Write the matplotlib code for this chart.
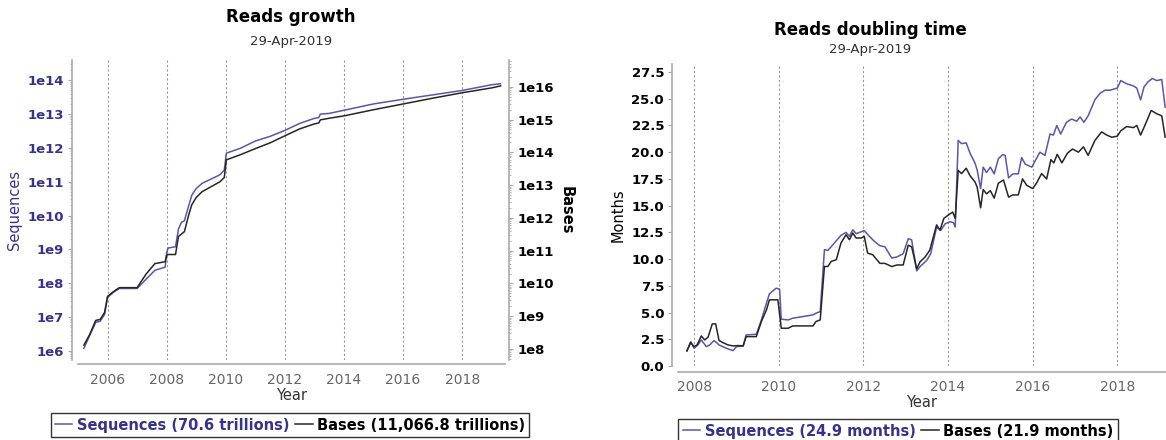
import numpy as np
import matplotlib
matplotlib.use('Agg')
import matplotlib.pyplot as plt
from matplotlib.ticker import LogLocator, NullFormatter

plt.rcParams['font.family'] = ['DejaVu Sans']

# Datos: crecimiento de lecturas
years_growth = [2005.2, 2005.4, 2005.6, 2005.75, 2005.9, 2006.0, 2006.2, 2006.4, 2007.0, 2007.3,
                2007.6, 2007.95, 2008.0, 2008.05, 2008.3, 2008.4, 2008.5, 2008.6, 2008.75, 2008.85,
                2009.0, 2009.2, 2009.5, 2009.8, 2009.95, 2010.02, 2010.5, 2011.0, 2011.5, 2012.0,
                2012.5, 2013.0, 2013.15, 2013.2, 2013.5, 2014.0, 2015.0, 2016.0, 2017.0, 2018.0,
                2019.0, 2019.3]
sequences = [1.2e6, 2.9e6, 7e6, 7.5e6, 1.2e7, 3.8e7, 5.4e7, 7e7, 7e7, 1.3e8,
             2.4e8, 3e8, 8e8, 1.1e9, 1.2e9, 4e9, 6.3e9, 7e9, 2e10, 4e10,
             6.3e10, 9e10, 1.2e11, 1.6e11, 2.2e11, 7e11, 9.8e11, 1.6e12, 2.2e12, 3.3e12,
             5.3e12, 7.5e12, 7.9e12, 1e13, 1.05e13, 1.3e13, 2e13, 2.75e13, 3.7e13, 5e13,
             7.4e13, 7.9e13]
bases = [1.3e8, 2.8e8, 7.4e8, 7.9e8, 1.3e9, 4.0e9, 5.6e9, 7.4e9, 7.4e9, 1.9e10,
         4.0e10, 4.6e10, 7.1e10, 7.6e10, 7.6e10, 2.7e11, 3.2e11, 3.8e11, 1.26e12, 2.5e12,
         4.2e12, 6.3e12, 8.9e12, 1.26e13, 1.7e13, 5.9e13, 8.5e13, 1.3e14, 1.95e14, 3.2e14,
         5.2e14, 7.4e14, 7.9e14, 9.8e14, 1.1e15, 1.3e15, 2.0e15, 3.0e15, 4.5e15, 6.6e15,
         9.3e15, 1.07e16]
seq_ticks = [1e6, 1e7, 1e8, 1e9, 1e10, 1e11, 1e12, 1e13, 1e14]
seq_tick_labels = ['1e6', '1e7', '1e8', '1e9', '1e10', '1e11', '1e12', '1e13', '1e14']
bases_ticks = [1e8, 1e9, 1e10, 1e11, 1e12, 1e13, 1e14, 1e15, 1e16]
bases_tick_labels = ['1e8', '1e9', '1e10', '1e11', '1e12', '1e13', '1e14', '1e15', '1e16']

# Datos: tiempo de duplicación (meses)
years_seq_dt = [2007.83, 2007.92, 2008.0, 2008.09, 2008.17, 2008.29, 2008.37, 2008.47, 2008.53, 2008.59,
                2008.76, 2008.92, 2009.0, 2009.16, 2009.23, 2009.47, 2009.59, 2009.71, 2009.78, 2009.94,
                2010.02, 2010.06, 2010.22, 2010.33, 2010.81, 2010.88, 2010.98, 2011.08, 2011.16, 2011.28,
                2011.47, 2011.59, 2011.67, 2011.75, 2011.83, 2011.91, 2012.02, 2012.14, 2012.26, 2012.39,
                2012.51, 2012.67, 2012.79, 2012.94, 2013.06, 2013.14, 2013.26, 2013.34, 2013.5, 2013.59,
                2013.73, 2013.83, 2013.93, 2014.05, 2014.13, 2014.17, 2014.24, 2014.32, 2014.43, 2014.52,
                2014.64, 2014.69, 2014.77, 2014.83, 2014.91, 2015.0, 2015.09, 2015.19, 2015.29, 2015.35,
                2015.43, 2015.53, 2015.66, 2015.74, 2015.82, 2015.98, 2016.06, 2016.17, 2016.29, 2016.41,
                2016.49, 2016.57, 2016.66, 2016.8, 2016.92, 2017.04, 2017.12, 2017.21, 2017.31, 2017.47,
                2017.59, 2017.71, 2017.83, 2018.0, 2018.08, 2018.22, 2018.38, 2018.46, 2018.55, 2018.63,
                2018.73, 2018.83, 2018.93, 2019.05, 2019.13]
seq_months = [1.41, 2.28, 1.66, 1.97, 2.44, 1.81, 1.97, 2.38, 2.19, 1.97,
              1.66, 1.44, 1.81, 1.88, 2.91, 2.97, 4.31, 5.88, 6.75, 7.28,
              7.19, 4.38, 4.31, 4.47, 4.78, 4.94, 5.09, 10.88, 10.81, 11.34,
              12.22, 12.5, 12.13, 12.75, 12.38, 12.5, 12.66, 12.13, 11.66, 11.25,
              11.15, 10.1, 10.2, 10.5, 11.9, 11.8, 8.9, 9.3, 9.9, 10.5,
              13.0, 12.7, 13.3, 13.5, 13.4, 13.0, 21.1, 20.8, 20.87, 19.9,
              18.96, 18.3, 16.6, 18.6, 18.1, 18.6, 17.97, 19.4, 19.77, 19.7,
              17.6, 17.97, 17.97, 19.5, 18.9, 18.6, 19.2, 20.0, 19.7, 21.7,
              21.6, 22.5, 21.7, 22.8, 23.1, 22.9, 23.3, 22.8, 23.4, 24.9,
              25.5, 25.8, 25.8, 26.0, 26.7, 26.4, 26.2, 26.0, 24.9, 26.1,
              26.6, 26.9, 26.7, 26.8, 24.2]

years_bas_dt = [2007.83, 2007.92, 2008.0, 2008.07, 2008.17, 2008.25, 2008.33, 2008.43, 2008.51, 2008.59,
                2008.68, 2008.8, 2008.92, 2009.04, 2009.16, 2009.23, 2009.47, 2009.59, 2009.71, 2009.78,
                2009.98, 2010.06, 2010.22, 2010.33, 2010.81, 2010.88, 2010.98, 2011.08, 2011.16, 2011.24,
                2011.36, 2011.47, 2011.59, 2011.67, 2011.75, 2011.83, 2011.95, 2012.02, 2012.1, 2012.22,
                2012.39, 2012.51, 2012.67, 2012.79, 2012.94, 2013.06, 2013.14, 2013.26, 2013.34, 2013.46,
                2013.57, 2013.73, 2013.81, 2013.9, 2014.0, 2014.11, 2014.17, 2014.24, 2014.32, 2014.43,
                2014.52, 2014.64, 2014.69, 2014.77, 2014.83, 2014.91, 2015.0, 2015.09, 2015.19, 2015.31,
                2015.43, 2015.53, 2015.66, 2015.76, 2015.86, 2016.0, 2016.09, 2016.21, 2016.33, 2016.43,
                2016.5, 2016.58, 2016.69, 2016.82, 2016.94, 2017.08, 2017.2, 2017.31, 2017.47, 2017.63,
                2017.75, 2017.87, 2018.0, 2018.08, 2018.22, 2018.38, 2018.46, 2018.55, 2018.65, 2018.8,
                2018.93, 2019.05, 2019.13]
bas_months = [1.41, 2.19, 1.81, 1.97, 2.81, 2.44, 2.69, 3.94, 3.94, 2.38,
              2.19, 1.97, 1.88, 1.91, 1.88, 2.75, 2.75, 4.16, 5.25, 6.19,
              6.19, 3.53, 3.53, 3.75, 3.75, 4.16, 4.31, 9.31, 9.31, 9.78,
              9.94, 11.5, 12.28, 11.81, 12.44, 11.97, 11.97, 12.13, 10.56, 10.41,
              9.6, 9.6, 9.3, 9.45, 9.45, 11.3, 11.15, 9.1, 9.75, 10.2,
              10.85, 13.2, 12.7, 13.8, 14.1, 14.4, 13.8, 18.3, 18.0, 18.5,
              17.8, 17.2, 16.7, 14.8, 16.5, 16.1, 16.4, 15.7, 17.1, 17.4,
              15.8, 16.0, 16.0, 17.5, 16.9, 16.6, 17.1, 18.0, 17.5, 19.3,
              19.0, 19.8, 19.0, 19.9, 20.3, 20.0, 20.5, 19.7, 21.1, 21.9,
              21.6, 21.4, 21.5, 22.0, 22.4, 22.3, 22.5, 21.6, 22.5, 23.9,
              23.6, 23.4, 21.4]
month_ticks = [0.0, 2.5, 5.0, 7.5, 10.0, 12.5, 15.0, 17.5, 20.0, 22.5, 25.0, 27.5]

PURPLE = '#5b56a8'
PURPLE_TXT = '#38338a'
BLACK = '#262626'
SPINE = '#aaaaaa'

fig = plt.figure(figsize=(11.66, 4.4), dpi=100)

# ---------- Gráfica izquierda: Reads growth ----------
ax = fig.add_axes([78/1166, 80/440, 427/1166, 300/440])
ax2 = ax.twinx()
ax.plot(years_growth, sequences, color=PURPLE, lw=1.1, zorder=3)
ax2.plot(years_growth, bases, color=BLACK, lw=1.1, zorder=3)
ax.set_yscale('log')
ax2.set_yscale('log')
ax.set_ylim(10**5.73, 10**14.6)
ax2.set_ylim(10**7.66, 10**16.82)
ax.set_xlim(2005.0, 2019.45)

ax.set_yticks(seq_ticks, seq_tick_labels)
ax2.set_yticks(bases_ticks, bases_tick_labels)
for a, c in ((ax, PURPLE_TXT), (ax2, 'black')):
    a.yaxis.set_minor_locator(LogLocator(base=10, subs=np.arange(2, 10), numticks=20))
    a.yaxis.set_minor_formatter(NullFormatter())
    a.tick_params(axis='y', which='major', length=3, color=SPINE, labelsize=9.5,
                  labelcolor=c, pad=3)
    a.tick_params(axis='y', which='minor', length=1.5, color=SPINE)

ax.spines['top'].set_visible(False)
ax2.spines['top'].set_visible(False)
ax.spines['right'].set_visible(False)
ax2.spines['left'].set_visible(False)
ax2.spines['bottom'].set_visible(False)
ax.spines['left'].set_position(('outward', 4))
ax.spines['bottom'].set_position(('outward', 3))
ax2.spines['right'].set_position(('outward', 3))
for sp in (ax.spines['left'], ax.spines['bottom'], ax2.spines['right']):
    sp.set_color(SPINE)
    sp.set_linewidth(1.2)

ax.set_xticks([2006, 2008, 2010, 2012, 2014, 2016, 2018])
ax.tick_params(axis='x', length=0, labelsize=10, labelcolor='#666666', pad=6)
ax.grid(axis='x', color='#999999', linestyle=(0, (2, 2)), lw=0.8)
ax.set_xlabel('Year', fontsize=10.5, color='#333333', labelpad=1)
ax.set_ylabel('Sequences', fontsize=10.5, color=PURPLE_TXT, labelpad=4)
ax2.set_ylabel('Bases', fontsize=10.5, fontweight='bold', rotation=-90, labelpad=14)

fig.text(291/1166, 1 - 17/440, 'Reads growth', ha='center', va='center',
         fontsize=12, fontweight='bold')
fig.text(291/1166, 1 - 42/440, '29-Apr-2019', ha='center', va='center',
         fontsize=9.5, color='#333333')

h1, = ax.plot([], [], color=PURPLE, lw=1.1)
h2, = ax.plot([], [], color=BLACK, lw=1.1)
leg = fig.legend([h1, h2], ['Sequences (70.6 trillions)', 'Bases (11,066.8 trillions)'],
                 loc='center', bbox_to_anchor=(290/1166, 1 - 425/440), ncol=2,
                 frameon=True, fancybox=False, edgecolor='#333333', framealpha=1,
                 handlelength=1.2, handletextpad=0.3, columnspacing=0.4,
                 borderpad=0.3, prop={'weight': 'bold', 'size': 10.5})
leg.get_frame().set_linewidth(1.0)
leg.get_texts()[0].set_color(PURPLE_TXT)

# ---------- Gráfica derecha: Reads doubling time ----------
bx = fig.add_axes([678/1166, 74/440, 488/1166, 302/440])
bx.plot(years_seq_dt, seq_months, color=PURPLE, lw=1.1, zorder=3)
bx.plot(years_bas_dt, bas_months, color=BLACK, lw=1.1, zorder=3)
bx.set_xlim(2007.62, 2019.15)
bx.set_ylim(0, 28.25)
bx.set_yticks(month_ticks, ['%.1f' % m for m in month_ticks])
bx.set_xticks([2008, 2010, 2012, 2014, 2016, 2018])
bx.tick_params(axis='x', length=0, labelsize=10, labelcolor='#666666', pad=6)
bx.tick_params(axis='y', length=3, color=SPINE, labelsize=9.5, pad=3)
bx.spines['top'].set_visible(False)
bx.spines['right'].set_visible(False)
bx.spines['left'].set_position(('outward', 4))
bx.spines['bottom'].set_position(('outward', 4))
for s in ('left', 'bottom'):
    bx.spines[s].set_color(SPINE)
    bx.spines[s].set_linewidth(1.2)
bx.grid(axis='x', color='#999999', linestyle=(0, (2, 2)), lw=0.8)
bx.set_xlabel('Year', fontsize=10.5, color='#333333', labelpad=1)
bx.set_ylabel('Months', fontsize=10.5, labelpad=4)

fig.text(870/1166, 1 - 30/440, 'Reads doubling time', ha='center', va='center',
         fontsize=12, fontweight='bold')
fig.text(870/1166, 1 - 50/440, '29-Apr-2019', ha='center', va='center',
         fontsize=9.5, color='#333333')

leg2 = fig.legend([h1, h2], ['Sequences (24.9 months)', 'Bases (21.9 months)'],
                  loc='center', bbox_to_anchor=(898/1166, 1 - 431/440), ncol=2,
                  frameon=True, fancybox=False, edgecolor='#333333', framealpha=1,
                  handlelength=1.2, handletextpad=0.3, columnspacing=0.4,
                  borderpad=0.3, prop={'weight': 'bold', 'size': 10.5})
leg2.get_frame().set_linewidth(1.0)
leg2.get_texts()[0].set_color(PURPLE_TXT)

# etiquetas de los ejes Y en negrita
fig.canvas.draw()
for a in (ax, ax2, bx):
    for lbl in a.get_yticklabels():
        lbl.set_fontweight('bold')

fig.savefig('out.png', dpi=100)
